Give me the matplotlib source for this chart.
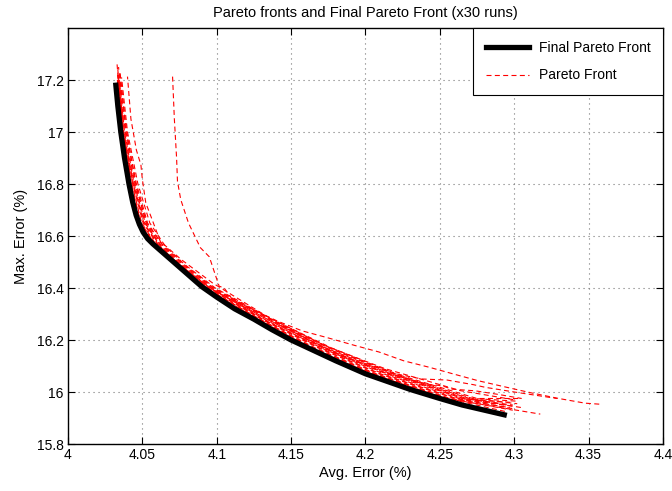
import numpy as np
from matplotlib import pyplot as plt
from matplotlib.lines import Line2D

plt.rcParams['font.family'] = ['Liberation Sans', 'DejaVu Sans']

# final (merged) pareto front
final_x = [4.032, 4.0335, 4.0355, 4.038, 4.041, 4.0435, 4.0458, 4.048, 4.0505, 4.0535,
           4.057, 4.062, 4.070, 4.080, 4.090, 4.100, 4.112, 4.125, 4.137, 4.150,
           4.165, 4.180, 4.200, 4.215, 4.230, 4.250, 4.265, 4.280, 4.295]
final_y = [17.19, 17.10, 17.00, 16.90, 16.80, 16.73, 16.68, 16.645, 16.615, 16.59,
           16.57, 16.545, 16.505, 16.455, 16.405, 16.365, 16.32, 16.28, 16.24, 16.20,
           16.16, 16.12, 16.07, 16.04, 16.01, 15.975, 15.95, 15.93, 15.91]

# per-run pareto fronts
runs_x = [
    [4.0330, 4.0365, 4.0420, 4.0485, 4.0590, 4.0720, 4.0925, 4.1290, 4.1650, 4.2060, 4.2560, 4.2990],
    [4.0335, 4.0370, 4.0430, 4.0495, 4.0600, 4.0735, 4.0940, 4.1300, 4.1680, 4.2090, 4.2600, 4.3000],
    [4.0340, 4.0375, 4.0440, 4.0510, 4.0615, 4.0750, 4.0955, 4.1320, 4.1700, 4.2120, 4.2630, 4.2980],
    [4.0345, 4.0380, 4.0445, 4.0520, 4.0620, 4.0745, 4.0960, 4.1335, 4.1720, 4.2150, 4.2680, 4.2950],
    [4.0335, 4.0368, 4.0425, 4.0490, 4.0595, 4.0725, 4.0930, 4.1280, 4.1640, 4.2050, 4.2550, 4.2940],
    [4.0350, 4.0390, 4.0460, 4.0535, 4.0640, 4.0770, 4.0975, 4.1350, 4.1750, 4.2180, 4.2720, 4.3010],
    [4.0355, 4.0395, 4.0455, 4.0525, 4.0630, 4.0760, 4.0965, 4.1310, 4.1690, 4.2100, 4.2610, 4.3000],
    [4.0340, 4.0372, 4.0435, 4.0505, 4.0610, 4.0740, 4.0950, 4.1340, 4.1730, 4.2170, 4.2700, 4.3020],
    [4.0360, 4.0400, 4.0470, 4.0550, 4.0655, 4.0785, 4.0990, 4.1370, 4.1770, 4.2200, 4.2750, 4.3030],
    [4.0338, 4.0366, 4.0422, 4.0488, 4.0592, 4.0722, 4.0928, 4.1285, 4.1660, 4.2070, 4.2570, 4.2970],
    [4.0345, 4.0385, 4.0450, 4.0530, 4.0645, 4.0780, 4.0980, 4.1360, 4.1760, 4.2190, 4.2650, 4.2990],
    [4.0333, 4.0372, 4.0438, 4.0515, 4.0625, 4.0755, 4.0945, 4.1305, 4.1710, 4.2140, 4.2660, 4.3050],
    [4.0332, 4.0362, 4.0418, 4.0480, 4.0588, 4.0718, 4.0922, 4.1275, 4.1630, 4.2040, 4.2540, 4.3175],
]
runs_y = [
    [17.26, 17.00, 16.80, 16.65, 16.56, 16.49, 16.40, 16.28, 16.17, 16.07, 15.975, 15.930],
    [17.24, 17.00, 16.80, 16.65, 16.56, 16.49, 16.40, 16.28, 16.17, 16.07, 15.975, 15.945],
    [17.22, 17.00, 16.80, 16.65, 16.56, 16.49, 16.40, 16.28, 16.17, 16.07, 15.975, 15.960],
    [17.20, 17.00, 16.80, 16.65, 16.56, 16.49, 16.40, 16.28, 16.17, 16.07, 15.975, 15.950],
    [17.21, 17.00, 16.80, 16.65, 16.56, 16.49, 16.40, 16.28, 16.17, 16.07, 15.975, 15.925],
    [17.23, 17.00, 16.80, 16.65, 16.56, 16.49, 16.40, 16.28, 16.17, 16.07, 15.975, 15.965],
    [17.19, 17.00, 16.80, 16.65, 16.56, 16.49, 16.40, 16.28, 16.17, 16.07, 15.975, 15.935],
    [17.25, 17.00, 16.80, 16.65, 16.56, 16.49, 16.40, 16.28, 16.17, 16.07, 15.975, 15.955],
    [17.21, 17.00, 16.80, 16.65, 16.56, 16.49, 16.40, 16.28, 16.17, 16.07, 15.975, 15.975],
    [17.18, 17.00, 16.80, 16.65, 16.56, 16.49, 16.40, 16.28, 16.17, 16.07, 15.975, 15.940],
    [17.23, 17.00, 16.80, 16.65, 16.56, 16.49, 16.40, 16.28, 16.17, 16.07, 15.975, 15.950],
    [17.22, 17.00, 16.80, 16.65, 16.56, 16.49, 16.40, 16.28, 16.17, 16.07, 15.975, 15.940],
    [17.20, 17.00, 16.80, 16.65, 16.56, 16.49, 16.40, 16.28, 16.17, 16.07, 15.975, 15.915],
]

# runs that stray away from the bundle
far_x = [4.0703, 4.0715, 4.0730, 4.0736, 4.0758, 4.0810, 4.0890, 4.0950, 4.0993, 4.1016,
         4.1050, 4.1105, 4.1240, 4.1407, 4.1575, 4.1743, 4.1922, 4.2090, 4.2257, 4.2436,
         4.2593, 4.2760, 4.2950, 4.3120, 4.3300, 4.3477, 4.3577]
far_y = [17.213, 17.05, 16.90, 16.81, 16.74, 16.65, 16.555, 16.52, 16.446, 16.407,
         16.40, 16.356, 16.318, 16.273, 16.235, 16.209, 16.18, 16.154, 16.12, 16.094,
         16.069, 16.043, 16.018, 15.996, 15.975, 15.957, 15.953]
late_x = [4.0400, 4.0423, 4.0460, 4.0490, 4.0500, 4.0523, 4.0557, 4.0620, 4.0760, 4.0970,
          4.1340, 4.1720, 4.2130, 4.2640, 4.3000]
late_y = [17.213, 17.05, 16.93, 16.874, 16.817, 16.727, 16.676, 16.58, 16.51, 16.42,
          16.29, 16.18, 16.09, 16.005, 15.97]
upper_x = [4.1000, 4.1300, 4.1600, 4.1850, 4.2034, 4.2123, 4.2213, 4.2290, 4.2380, 4.2548,
           4.2727, 4.2805, 4.3000, 4.3287]
upper_y = [16.385, 16.30, 16.205, 16.135, 16.10, 16.088, 16.069, 16.06, 16.05, 16.046,
           16.028, 16.018, 16.00, 15.975]
mid_x = [4.1400, 4.1800, 4.2100, 4.2414, 4.2515, 4.2580, 4.2738, 4.2900, 4.3050]
mid_y = [16.265, 16.15, 16.08, 16.03, 16.024, 16.011, 16.0045, 15.99, 15.975]

fig = plt.figure(figsize=(6.72, 4.91), dpi=100)
ax = fig.add_axes([68 / 672, 47 / 491, 595 / 672, 416 / 491])

dash = (0, (4.5, 3))
for i, (rx, ry) in enumerate(zip(runs_x, runs_y)):
    ax.plot(rx, ry, color='red', lw=0.8, linestyle=(i * 1.3 % 7, (4.5, 3)))
ax.plot(far_x, far_y, color='red', lw=0.8, linestyle=dash)
ax.plot(late_x, late_y, color='red', lw=0.8, linestyle=(2, (4.5, 3)))
ax.plot(upper_x, upper_y, color='red', lw=0.8, linestyle=(1, (4.5, 3)))
ax.plot(mid_x, mid_y, color='red', lw=0.8, linestyle=(3, (4.5, 3)))
ax.plot(final_x, final_y, color='black', lw=3.8, solid_capstyle='butt',
        solid_joinstyle='round', zorder=5)

ax.set_xlim(4, 4.4)
ax.set_ylim(15.8, 17.4)
ax.set_xticks(np.arange(4, 4.41, 0.05))
ax.set_xticklabels(['4', '4.05', '4.1', '4.15', '4.2', '4.25', '4.3', '4.35', '4.4'])
ax.set_yticks(np.arange(15.8, 17.21, 0.2))
ax.set_yticklabels(['15.8', '16', '16.2', '16.4', '16.6', '16.8', '17', '17.2'])
ax.tick_params(direction='in', top=True, right=True, labelsize=10, length=5, width=0.8, pad=3)
ax.grid(True, linestyle=(0, (1, 3.5)), color='#777777', linewidth=0.8)
for s in ax.spines.values():
    s.set_linewidth(1.0)

ax.set_title('Pareto fronts and Final Pareto Front (x30 runs)', fontsize=10.5, pad=8)
ax.set_xlabel('Avg. Error (%)', fontsize=10.5, labelpad=3)
ax.set_ylabel('Max. Error (%)', fontsize=10.5, labelpad=6)

handles = [Line2D([], [], color='black', lw=3.8),
           Line2D([], [], color='red', lw=0.8, linestyle=dash)]
leg = ax.legend(handles, ['Final Pareto Front', 'Pareto Front'], loc='upper right',
                fontsize=10, fancybox=False, edgecolor='black', framealpha=1,
                borderaxespad=0, handlelength=3.1, handletextpad=0.7,
                labelspacing=1.0, borderpad=0.9)
leg.get_frame().set_linewidth(0.8)

plt.savefig('out.png', dpi=100)
